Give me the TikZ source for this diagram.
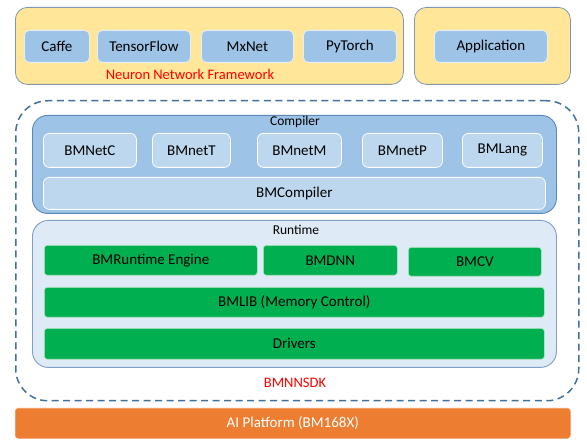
\documentclass[tikz,border=0pt]{standalone}
\usepackage{fontspec}
\setmainfont{Carlito}
\definecolor{yfill}{HTML}{FFE699}
\definecolor{yborder}{HTML}{8497B0}
\definecolor{bfill}{HTML}{9DC3E6}
\definecolor{bborder}{HTML}{E2EEF9}
\definecolor{cborder}{HTML}{5B88B8}
\definecolor{cinner}{HTML}{BDD7EE}
\definecolor{rfill}{HTML}{DEEBF7}
\definecolor{rborder}{HTML}{7F9FC8}
\definecolor{gfill}{HTML}{00B050}
\definecolor{gborder}{HTML}{B8E6C8}
\definecolor{dashc}{HTML}{41719C}
\definecolor{ofill}{HTML}{ED7D31}
\definecolor{redtxt}{HTML}{FF0000}
\tikzset{
  boxbase/.style={rectangle, anchor=north west, inner sep=0pt, align=center, font=\fontsize{15}{17}\selectfont},
  ybox/.style={boxbase, fill=yfill, draw=yborder, line width=0.8pt, rounded corners=12pt},
  fwbox/.style={boxbase, fill=bfill, draw=bborder, line width=0.8pt, rounded corners=5pt},
  cbox/.style={boxbase, fill=bfill, draw=cborder, line width=0.9pt, rounded corners=15pt},
  cinbox/.style={boxbase, fill=cinner, draw=white, line width=0.8pt, rounded corners=6pt},
  rbox/.style={boxbase, fill=rfill, draw=rborder, line width=0.9pt, rounded corners=16pt},
  gbox/.style={boxbase, fill=gfill, draw=gborder, line width=0.6pt, rounded corners=3pt},
  obox/.style={boxbase, fill=ofill, draw=ofill!80!white, line width=0.6pt, rounded corners=3pt, text=white},
  sdkbox/.style={boxbase, draw=dashc, line width=1.5pt, dash pattern=on 7pt off 4.5pt, rounded corners=32pt},
  lbl/.style={inner sep=0pt, font=\fontsize{13.5}{15}\selectfont},
  redlbl/.style={inner sep=0pt, text=redtxt, font=\fontsize{14.5}{16}\selectfont}
}
\begin{document}
\begin{tikzpicture}[x=1pt,y=-1pt]
\useasboundingbox[fill=white] (0,0) rectangle (587,443);
% top framework
\node[ybox, minimum width=388pt, minimum height=77pt] (fw) at (15,7) {};
\node[fwbox, minimum width=65pt, minimum height=32pt] (caffe) at (24,30) {Caffe};
\node[fwbox, minimum width=93pt, minimum height=32pt] (tf) at (97,30) {TensorFlow};
\node[fwbox, minimum width=92pt, minimum height=32pt] (mx) at (201,30) {MxNet};
\node[fwbox, minimum width=93pt, minimum height=32pt] (pt) at (303,30) {PyTorch};
\node[redlbl] (fwlbl) at (190,75) {Neuron Network Framework};
\node[ybox, minimum width=156pt, minimum height=77pt] (appbox) at (414,7) {};
\node[fwbox, minimum width=113pt, minimum height=32pt] (app) at (434,30) {Application};
% SDK dashed
\node[sdkbox, minimum width=563pt, minimum height=300pt] (sdk) at (15,100) {};
% compiler
\node[cbox, minimum width=524pt, minimum height=98pt] (comp) at (32,115) {};
\node[lbl] (complbl) at (295,121.5) {Compiler};
\node[cinbox, minimum width=93pt, minimum height=34pt] (netc) at (43,133) {BMNetC};
\node[cinbox, minimum width=78pt, minimum height=34pt] (nett) at (152,133) {BMnetT};
\node[cinbox, minimum width=84pt, minimum height=34pt] (netm) at (257,133) {BMnetM};
\node[cinbox, minimum width=80pt, minimum height=34pt] (netp) at (362,133) {BMnetP};
\node[cinbox, minimum width=80pt, minimum height=34pt] (lang) at (462,133) {BMLang};
\node[cinbox, minimum width=502pt, minimum height=32pt] (bmc) at (43,177) {BMCompiler};
% runtime
\node[rbox, minimum width=524pt, minimum height=147pt] (rt) at (32,220) {};
\node[lbl] (rtlbl) at (296,230) {Runtime};
\node[gbox, minimum width=213pt, minimum height=30pt] (eng) at (44,245) {BMRuntime Engine};
\node[gbox, minimum width=134pt, minimum height=30pt] (dnn) at (263,245) {BMDNN};
\node[gbox, minimum width=133pt, minimum height=29pt] (cv) at (408,247) {BMCV};
\node[gbox, minimum width=500pt, minimum height=30pt] (lib) at (44,287) {BMLIB (Memory Control)};
\node[gbox, minimum width=500pt, minimum height=31pt] (drv) at (44,328) {Drivers};
\node[redlbl] (sdklbl) at (295,383) {BMNNSDK};
% platform
\node[obox, minimum width=555pt, minimum height=30pt] (ai) at (15,408) {AI Platform (BM168X)};
\end{tikzpicture}
\end{document}
